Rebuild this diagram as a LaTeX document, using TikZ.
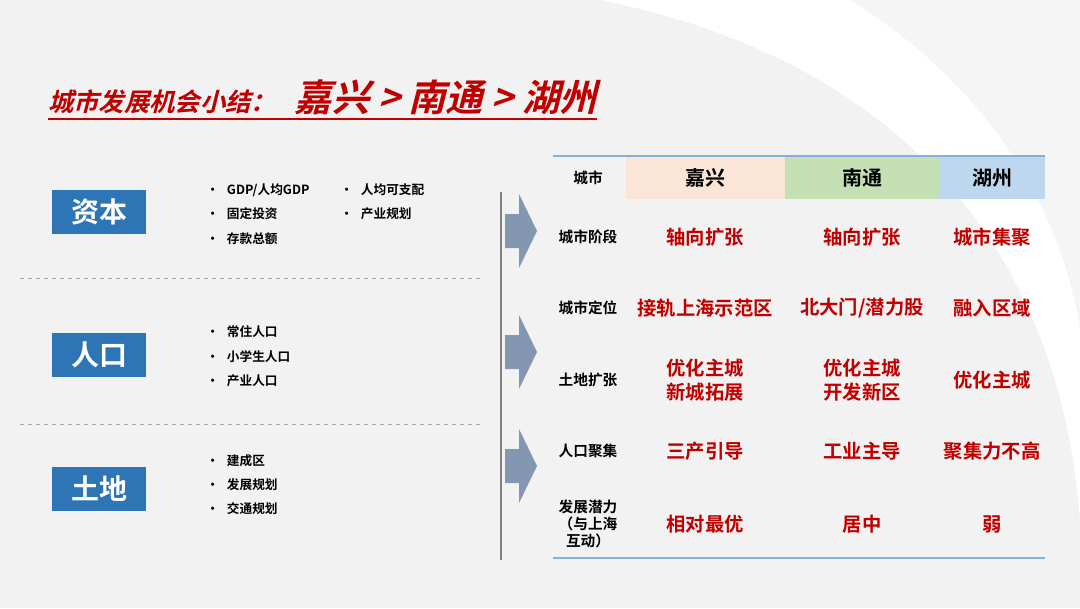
\documentclass[tikz,border=0pt]{standalone}
\usepackage{fontspec}
\setmainfont{Noto Sans CJK SC}[BoldFont={Noto Sans CJK SC Bold}]
\newfontfamily\cjkb{Noto Sans CJK SC Bold}
\newfontfamily\cjki{Noto Sans CJK SC Bold}[FakeSlant=0.25]
\definecolor{bg}{HTML}{F2F2F2}
\definecolor{boxblue}{HTML}{2E75B6}
\definecolor{redt}{HTML}{C00000}
\definecolor{arr}{HTML}{8497B0}
\definecolor{peach}{HTML}{FBE5D6}
\definecolor{lgreen}{HTML}{C5E0B4}
\definecolor{lblue}{HTML}{BDD7EE}
\tikzset{
 catbox/.style={fill=boxblue,text=white,minimum width=70.5pt,minimum height=33pt,inner sep=0pt,font=\cjkb\fontsize{21}{21}\selectfont},
 bul/.style={anchor=west,inner sep=0pt,font=\cjkb\fontsize{9.5}{10}\selectfont},
 rowl/.style={font=\cjkb\fontsize{11}{13}\selectfont,align=center},
 cell/.style={font=\cjkb\fontsize{14.5}{18}\selectfont,text=redt,align=center},
 head/.style={font=\cjkb\fontsize{15}{15}\selectfont},
 sep/.style={gray!70,dashed,line width=0.6pt}
}
\begin{document}
\begin{tikzpicture}[x=0.75pt,y=-0.75pt]
\useasboundingbox (0,0) rectangle (1080,608);
\fill[bg] (0,0) rectangle (1080,608);
\fill[white] (600,0) .. controls (900,60) and (1060,250) .. (1080,520) -- (1080,0) -- cycle;
\fill[gray!8] (850,0) .. controls (980,80) and (1060,200) .. (1080,330) -- (1080,0) -- cycle;
% title
\node[anchor=base west,inner sep=0pt,text=redt] (title) at (48,111) {\cjki\fontsize{19}{19}\selectfont 城市发展机会小结：\hspace{14pt}\fontsize{28}{28}\selectfont 嘉兴 > 南通 > 湖州};
\draw[redt,line width=1.2pt] (48,119) -- (597,119);
% left categories
\node[catbox] (zb) at (99,212) {资本};
\node[catbox] (rk) at (99,355) {人口};
\node[catbox] (td) at (99,489) {土地};
\draw[sep] (20,278) -- (480,278);
\draw[sep] (20,424) -- (480,424);
\foreach \t/\y [count=\i] in {{GDP/人均GDP}/190,固定投资/214,存款总额/239,常住人口/332,小学生人口/357,产业人口/381,建成区/461,发展规划/485,交通规划/509}{
 \node[bul] (b\i) at (206,\y) {·\hspace{6pt}\t};}
\node[bul] (c1) at (340,190) {·\hspace{6pt}人均可支配};
\node[bul] (c2) at (340,214) {·\hspace{6pt}产业规划};
% divider and arrows
\draw[gray,line width=2pt] (501,192) -- (501,560);
\foreach \y/\n in {231/a1,352/a2,466/a3}{
 \fill[arr] (505,\y-17) -- (519,\y-17) -- (519,\y-37) -- (537,\y) -- (519,\y+37) -- (519,\y+17) -- (505,\y+17) -- cycle;
 \coordinate (\n) at (520,\y);}
% table
\fill[peach] (626,157) rectangle (785,199);
\fill[lgreen] (785,157) rectangle (940,199);
\fill[lblue] (940,157) rectangle (1045,199);
\draw[lblue!60!boxblue,line width=1pt] (553,156) -- (1045,156);
\draw[lblue!60!boxblue,line width=1pt] (553,558) -- (1045,558);
\node[rowl] (h0) at (588,178) {城市};
\node[head] (h1) at (705,178) {嘉兴};
\node[head] (h2) at (862,178) {南通};
\node[head] (h3) at (992,178) {湖州};
\foreach \l/\a/\b/\c/\y [count=\i] in {
 城市阶段/轴向扩张/轴向扩张/城市集聚/237,
 城市定位/接轨上海示范区/{北大门/潜力股}/融入区域/308,
 土地扩张/{优化主城\\新城拓展}/{优化主城\\开发新区}/优化主城/380,
 人口聚集/三产引导/工业主导/聚集力不高/451,
 {发展潜力\\（与上海\\互动）}/相对最优/居中/弱/524}{
 \node[rowl] (r\i) at (588,\y) {\l};
 \node[cell] (x\i) at (705,\y) {\a};
 \node[cell] (y\i) at (862,\y) {\b};
 \node[cell] (z\i) at (992,\y) {\c};}
\end{tikzpicture}
\end{document}
